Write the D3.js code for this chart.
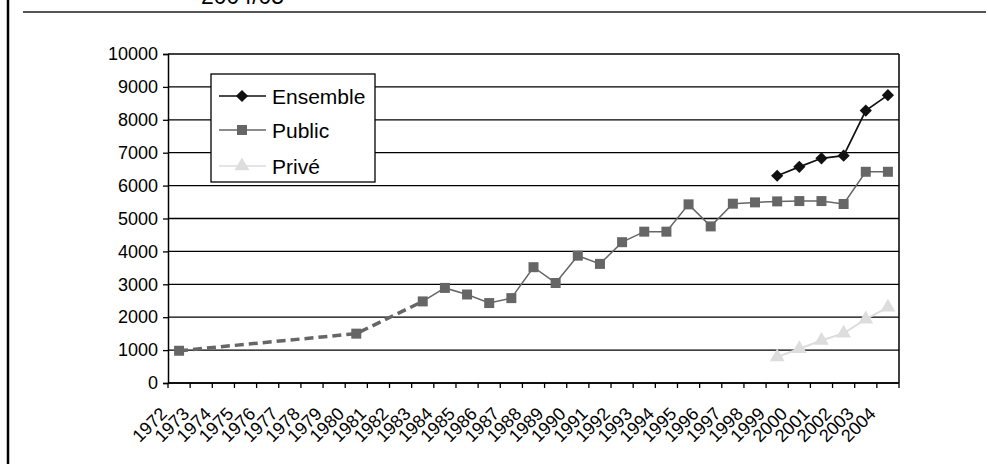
<!DOCTYPE html>
<html>
<head>
<meta charset="utf-8">
<script src="https://cdn.jsdelivr.net/npm/d3@7"></script>
<style>
  html, body { margin: 0; padding: 0; background: #fff; }
  svg { display: block; font-family: "Liberation Sans", Arial, sans-serif; }
</style>
</head>
<body>
<svg id="chart" width="988" height="464"></svg>
<script>
// Categories (school years)
const years = ["1972","1973","1974","1975","1976","1977","1978","1979","1980","1981",
  "1982","1983","1984","1985","1986","1987","1988","1989","1990","1991","1992","1993",
  "1994","1995","1996","1997","1998","1999","2000","2001","2002","2003","2004"];

// Series values (null = no data for that year)
const ensembleValues = [null,null,null,null,null,null,null,null,null,null,
  null,null,null,null,null,null,null,null,null,null,null,null,
  null,null,null,null,null,6300,6570,6830,6910,8280,8750];
const publicValues = [980,null,null,null,null,null,null,null,1500,null,
  null,2480,2890,2690,2430,2580,3520,3040,3870,3620,4280,4600,
  4600,5430,4760,5450,5490,5520,5530,5530,5440,6420,6420];
const priveValues = [null,null,null,null,null,null,null,null,null,null,
  null,null,null,null,null,null,null,null,null,null,null,null,
  null,null,null,null,null,790,1040,1290,1510,1940,2300];

// Value axis ticks
const yTicks = [0,1000,2000,3000,4000,5000,6000,7000,8000,9000,10000];

// Last year of the sparse (dashed) part of the public series
const sparseUntil = "1983";

const svg = d3.select("#chart");

const x = d3.scaleBand().domain(years).range([168, 899]);
const y = d3.scaleLinear().domain([0, 10000]).range([383, 54]);
const cx = d => x(d) + x.bandwidth() / 2;

// Page frame: left rule and top rule, with the heading above running off the top edge
svg.append("line").attr("x1", 8).attr("x2", 8).attr("y1", 0).attr("y2", 464)
  .attr("stroke", "#000").attr("stroke-width", 2.5);
svg.append("line").attr("x1", 23).attr("x2", 986).attr("y1", 12).attr("y2", 12)
  .attr("stroke", "#555").attr("stroke-width", 2);
svg.append("text").attr("x", 201).attr("y", 4)
  .attr("font-size", 23).attr("fill", "#000").text("2004/05");

// Horizontal gridlines
svg.append("g").selectAll("line").data(yTicks).join("line")
  .attr("x1", 168).attr("x2", 899)
  .attr("y1", d => y(d)).attr("y2", d => y(d))
  .attr("stroke", "#000").attr("stroke-width", 1.3);

// Right border of plot area
svg.append("line").attr("x1", 899).attr("x2", 899).attr("y1", y(10000)).attr("y2", y(0))
  .attr("stroke", "#000").attr("stroke-width", 1.5);

// Y axis
const yAxis = svg.append("g").attr("transform", "translate(168,0)")
  .call(d3.axisLeft(y).tickValues(yTicks).tickSize(5).tickPadding(5).tickFormat(d3.format("d")));
yAxis.select(".domain").attr("stroke", "#000").attr("stroke-width", 1.5);
yAxis.selectAll(".tick line").attr("stroke", "#000").attr("stroke-width", 1.3);
yAxis.selectAll("text").attr("font-size", 18).attr("fill", "#000")
  .attr("font-family", "Liberation Sans, Arial, sans-serif");

// X axis: ticks at category boundaries
const xg = svg.append("g");
xg.append("line").attr("x1", 168).attr("x2", 899).attr("y1", y(0)).attr("y2", y(0))
  .attr("stroke", "#000").attr("stroke-width", 1.5);
const bounds = years.map(d => x(d)).concat([x(years[years.length - 1]) + x.bandwidth()]);
xg.selectAll("line.tk").data(bounds).join("line").attr("class", "tk")
  .attr("x1", d => d).attr("x2", d => d).attr("y1", y(0)).attr("y2", y(0) + 5)
  .attr("stroke", "#000").attr("stroke-width", 1.3);
xg.selectAll("text").data(years).join("text")
  .attr("transform", d => `translate(${cx(d) - 11},${y(0) + 32}) rotate(-45)`)
  .attr("text-anchor", "end")
  .attr("font-size", 18).attr("fill", "#000")
  .text(d => d);

// Series data
const pts = vals => years.map((yr, i) => ({ yr, v: vals[i] })).filter(p => p.v != null);
const line = d3.line().x(p => cx(p.yr)).y(p => y(p.v));

const pub = pts(publicValues);
const sparseIdx = years.indexOf(sparseUntil);
const pubSparse = pub.filter(p => years.indexOf(p.yr) <= sparseIdx);
const pubAnnual = pub.filter(p => years.indexOf(p.yr) >= sparseIdx);

// Public: dashed across the sparse early years, solid afterwards
svg.append("path").attr("d", line(pubSparse)).attr("fill", "none")
  .attr("stroke", "#666").attr("stroke-width", 3.5).attr("stroke-dasharray", "9,5");
svg.append("path").attr("d", line(pubAnnual)).attr("fill", "none")
  .attr("stroke", "#666").attr("stroke-width", 1.5);

const ens = pts(ensembleValues);
svg.append("path").attr("d", line(ens)).attr("fill", "none")
  .attr("stroke", "#111").attr("stroke-width", 1.7);

const pri = pts(priveValues);
svg.append("path").attr("d", line(pri)).attr("fill", "none")
  .attr("stroke", "#ddd").attr("stroke-width", 2);

// Markers
const diamond = d3.symbol().type(d3.symbolDiamond2).size(95)();
const square = d3.symbol().type(d3.symbolSquare).size(100)();
const triangle = d3.symbol().type(d3.symbolTriangle).size(95)();

svg.append("g").selectAll("path").data(pub).join("path")
  .attr("d", square).attr("fill", "#666")
  .attr("transform", p => `translate(${cx(p.yr)},${y(p.v)})`);
svg.append("g").selectAll("path").data(ens).join("path")
  .attr("d", diamond).attr("fill", "#111")
  .attr("transform", p => `translate(${cx(p.yr)},${y(p.v)})`);
svg.append("g").selectAll("path").data(pri).join("path")
  .attr("d", triangle).attr("fill", "#ddd")
  .attr("transform", p => `translate(${cx(p.yr)},${y(p.v)})`);

// Legend
const legend = svg.append("g");
legend.append("rect").attr("x", 211).attr("y", 74).attr("width", 164).attr("height", 108)
  .attr("fill", "#fff").attr("stroke", "#000").attr("stroke-width", 1.3);
const legendItems = [
  { name: "Ensemble", color: "#111", shape: diamond, ly: 96 },
  { name: "Public", color: "#666", shape: square, ly: 130 },
  { name: "Privé", color: "#ddd", shape: triangle, ly: 166 }
];
legendItems.forEach(it => {
  legend.append("line").attr("x1", 219).attr("x2", 266).attr("y1", it.ly).attr("y2", it.ly)
    .attr("stroke", it.color).attr("stroke-width", 1.5);
  legend.append("path").attr("d", it.shape).attr("fill", it.color)
    .attr("transform", `translate(242,${it.ly})`);
  legend.append("text").attr("x", 272).attr("y", it.ly + 7.5)
    .attr("font-size", 21).attr("fill", "#000").text(it.name);
});
</script>
</body>
</html>
